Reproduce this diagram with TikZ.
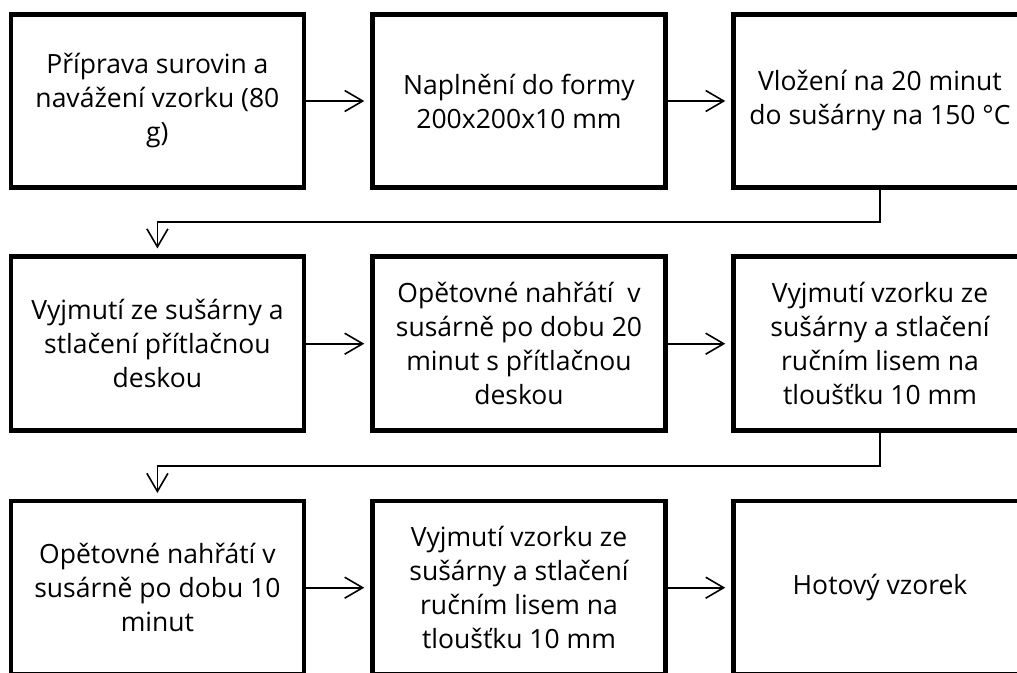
\documentclass[tikz,border=0pt]{standalone}
\usepackage{fontspec}
\setmainfont{Open Sans}
\usetikzlibrary{arrows.meta}
\tikzset{
  stepbox/.style={draw=black, line width=4.5pt, minimum width=293pt, minimum height=173pt,
    inner sep=0pt, align=center, font=\fontsize{26.5}{34}\selectfont, fill=white},
  flow/.style={line width=1.6pt, -{Straight Barb[length=18pt,width=21pt,line width=1.6pt]}, shorten >=6pt}
}
\begin{document}
\begin{tikzpicture}[x=1pt,y=-1pt]
\useasboundingbox (0,0) rectangle (1017,672);
\clip (0,0) rectangle (1017,672);
\fill[white] (0,0) rectangle (1017,672);
\node[stepbox] (a) at (157.4,101) {Příprava surovin a\\navážení vzorku (80\\g)};
\node[stepbox] (b) at (519,101) {Naplnění do formy\\200x200x10 mm};
\node[stepbox] (c) at (880,101) {Vložení na 20 minut\\do sušárny na 150 °C};
\node[stepbox, minimum height=174pt] (d) at (157.4,343.7) {Vyjmutí ze sušárny a\\stlačení přítlačnou\\deskou};
\node[stepbox, minimum height=174pt] (e) at (519,343.7) {Opětovné nahřátí\ \ v\\susárně po dobu 20\\minut s přítlačnou\\deskou};
\node[stepbox, minimum height=174pt] (f) at (880,343.7) {Vyjmutí vzorku ze\\sušárny a stlačení\\ručním lisem na\\tloušťku 10 mm};
\node[stepbox] (g) at (157.4,587.7) {Opětovné nahřátí v\\susárně po dobu 10\\minut};
\node[stepbox] (h) at (519,587.7) {Vyjmutí vzorku ze\\sušárny a stlačení\\ručním lisem na\\tloušťku 10 mm};
\node[stepbox] (i) at (880,587.7) {Hotový vzorek};
\coordinate (m1) at (0,222);
\coordinate (m2) at (0,465.7);
\draw[flow] (a) -- (b);
\draw[flow] (b) -- (c);
\draw[flow] (d) -- (e);
\draw[flow] (e) -- (f);
\draw[flow] (g) -- (h);
\draw[flow] (h) -- (i);
\draw[flow] (c.south) -- (c.south |- m1) -- (d.north |- m1) -- (d.north);
\draw[flow] (f.south) -- (f.south |- m2) -- (g.north |- m2) -- (g.north);
\end{tikzpicture}
\end{document}
